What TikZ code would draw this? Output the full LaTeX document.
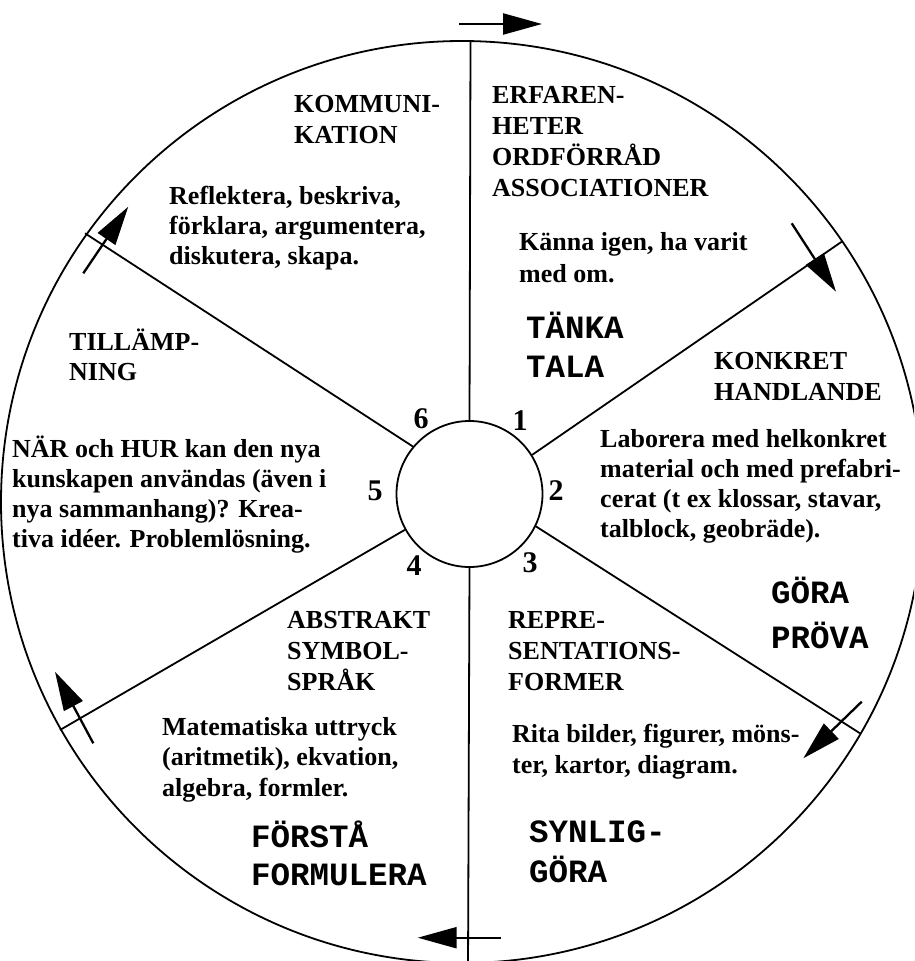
\documentclass[tikz,border=0pt]{standalone}
\usepackage{fontspec}
\setmainfont{Liberation Serif}
\setmonofont{Liberation Mono}
\usetikzlibrary{arrows.meta}
\tikzset{
  ln/.style={line width=1.8pt},
  arr/.style={line width=2.3pt, -{Triangle[length=39pt,width=21pt]}},
  body/.style={anchor=base west, align=left, inner sep=0pt, font=\bfseries\fontsize{26}{#1}\selectfont},
  body/.default=30,
  mono/.style={anchor=base west, align=left, inner sep=0pt, font=\ttfamily\bfseries\fontsize{32.5}{#1}\selectfont},
  mono/.default=39,
  num/.style={anchor=base, inner sep=0pt, font=\bfseries\fontsize{30}{30}\selectfont}
}
\begin{document}
\begin{tikzpicture}[x=1pt,y=-1pt]
\useasboundingbox (0,0) rectangle (914,961);
\fill[white] (0,0) rectangle (914,961);
\clip (0,0) rectangle (914,961);
% outer wheel
\coordinate (C) at (462,502);
\draw[ln] (C) circle[radius=461pt];
% hub
\node[ln, draw, circle, minimum size=146pt, inner sep=0pt] (hub) at (469.5,494) {};
% spoke ends on the rim
\coordinate (eU)  at (470.5,41);
\coordinate (eUR) at (841.7,241.7);
\coordinate (eLR) at (860,733.3);
\coordinate (eD)  at (468,970);
\coordinate (eLL) at (60,730);
\coordinate (eUL) at (85,233.3);
\draw[ln] (hub.90)    -- (eU);
\draw[ln] (hub.32)    -- (eUR);
\draw[ln] (hub.-26.5) -- (eLR);
\draw[ln] (hub.270)   -- (eD);
\draw[ln] (hub.209.7) -- (eLL);
\draw[ln] (hub.140.7) -- (eUL);
% direction arrows
\coordinate (aTt) at (459,24);     \coordinate (aTh) at (542,24);
\coordinate (aURt) at (791.7,223.3); \coordinate (aURh) at (836,291.7);
\coordinate (aLRt) at (861.7,701.7); \coordinate (aLRh) at (803.3,758.3);
\coordinate (aDt) at (500.7,937.7);  \coordinate (aDh) at (417.7,937.7);
\coordinate (aLLt) at (93.3,743.3);  \coordinate (aLLh) at (55,671.7);
\coordinate (aULt) at (83.3,273.3);  \coordinate (aULh) at (128.3,206.7);
\draw[arr] (aTt) -- (aTh);
\draw[arr] (aURt) -- (aURh);
\draw[arr] (aLRt) -- (aLRh);
\draw[arr] (aDt) -- (aDh);
\draw[arr] (aLLt) -- (aLLh);
\draw[arr] (aULt) -- (aULh);
% numbers
\node[num] (n1) at (520,430) {1};
\node[num] (n2) at (556,500) {2};
\node[num] (n3) at (530,572) {3};
\node[num] (n4) at (414,575) {4};
\node[num] (n5) at (375,500) {5};
\node[num] (n6) at (421,428) {6};
% (node positions give the baseline of each block's last line)
% sector 1
\node[body=31] (erf) at (492,196) {ERFAREN-\\HETER\\ORDFÖRRÅD\\ASSOCIATIONER};
\node[body=32] (kan) at (519,282) {Känna igen, ha varit\\med om.};
\node[mono=39] (tank) at (526,377) {TÄNKA\\TALA};
% sector 2
\node[body=31] (konk) at (714,400) {KONKRET\\HANDLANDE};
\node[body=30] (lab) at (600,537) {Laborera med helkonkret\\material och med prefabri-\\cerat (t ex klossar, stavar,\\talblock, geobräde).};
\node[mono=45] (gora) at (771,648) {GÖRA\\PRÖVA};
% sector 3
\node[body=31] (rep) at (508,690) {REPRE-\\SENTATIONS-\\FORMER};
\node[body=31] (rit) at (512,773) {Rita bilder, figurer, möns-\\ter, kartor, diagram.};
\node[mono=40] (syn) at (529,882) {SYNLIG-\\GÖRA};
% sector 4
\node[body=31] (abs) at (287,690) {ABSTRAKT\\SYMBOL-\\SPRÅK};
\node[body=30.5] (mat) at (162,796) {Matematiska uttryck\\(aritmetik), ekvation,\\algebra, formler.};
\node[mono=38] (forst) at (251,885) {FÖRSTÅ\\FORMULERA};
% sector 5
\node[body=30] (till) at (69,380) {TILLÄMP-\\NING};
\node[body=30] (nar) at (12,547) {NÄR och HUR kan den nya\\kunskapen användas (även i\\nya sammanhang)? Krea-\\tiva idéer. Problemlösning.};
% sector 6
\node[body=31] (kom) at (294,143) {KOMMUNI-\\KATION};
\node[body=30] (refl) at (169,264) {Reflektera, beskriva,\\förklara, argumentera,\\diskutera, skapa.};
\end{tikzpicture}
\end{document}
